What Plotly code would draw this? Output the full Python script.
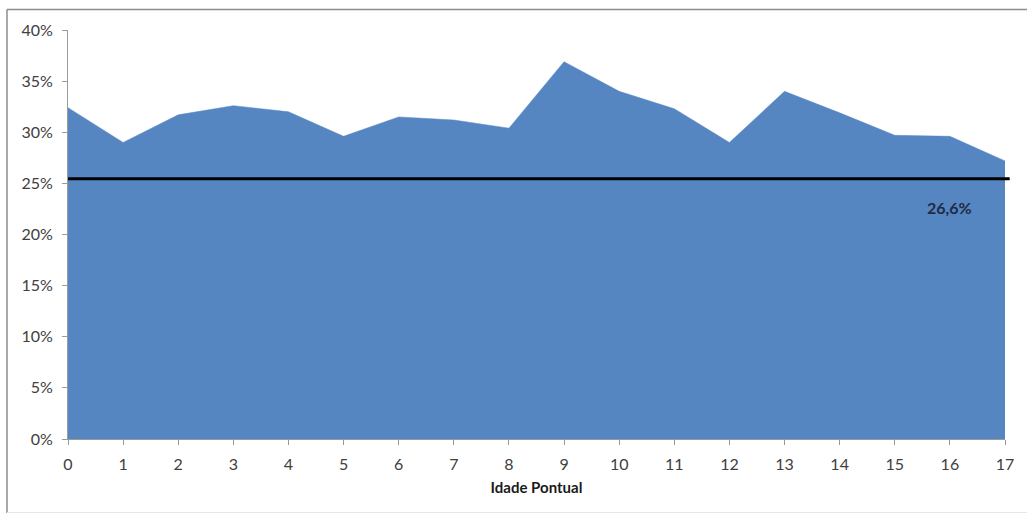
import plotly.graph_objects as go

ages = list(range(18))
tick_labels = [str(a) for a in ages]
rates = [32.4, 29.0, 31.7, 32.6, 32.0, 29.6, 31.5, 31.2, 30.4, 36.9,
         34.0, 32.3, 29.0, 34.0, 31.9, 29.7, 29.6, 27.2]
avg_line = 25.45
avg_label = "26,6%"

y_vals = [r / 100 for r in rates]

fig = go.Figure()
fig.add_trace(go.Scatter(
    x=ages, y=y_vals, mode="lines", fill="tozeroy",
    fillcolor="#5586C2", line=dict(color="#5586C2", width=0.5),
    hoverinfo="skip", showlegend=False,
))

fig.add_shape(type="line", xref="paper", yref="y", x0=0, x1=1.005,
              y0=avg_line / 100, y1=avg_line / 100,
              line=dict(color="black", width=3))

fig.add_annotation(x=16.0, y=0.226, xref="x", yref="y", text=avg_label,
                   showarrow=False,
                   font=dict(family="Lato", size=16, color="#1F2A44", weight="bold"))

# outer chart border (left, top, faint bottom)
px = lambda v: (v - 68) / 937
py = lambda v: (439 - v) / 409
fig.add_shape(type="line", xref="paper", yref="paper",
              x0=px(7), x1=px(7), y0=py(513), y1=py(9.5),
              line=dict(color="#8C8C8C", width=1.5))
fig.add_shape(type="line", xref="paper", yref="paper",
              x0=px(7), x1=px(1040), y0=py(9.5), y1=py(9.5),
              line=dict(color="#8C8C8C", width=1.5))
fig.add_shape(type="line", xref="paper", yref="paper",
              x0=px(7), x1=px(1040), y0=py(512.5), y1=py(512.5),
              line=dict(color="#E6E6E6", width=1))

axis_font = dict(family="Lato", size=16, color="#404040")
fig.update_xaxes(
    range=[0, 17], tickmode="array", tickvals=ages, ticktext=tick_labels,
    showline=True, linecolor="#9A9A9A", linewidth=1, ticks="outside",
    ticklen=5, tickcolor="#9A9A9A", showgrid=False, zeroline=False,
    tickfont=axis_font, ticklabelstandoff=6,
    title=dict(text="Idade Pontual",
               font=dict(family="Lato", size=15, color="#1A1A1A", weight="bold"),
               standoff=10),
)
fig.update_yaxes(
    range=[0, 0.4], tickmode="array",
    tickvals=[0, 0.05, 0.10, 0.15, 0.20, 0.25, 0.30, 0.35, 0.40],
    ticktext=["0%", "5%", "10%", "15%", "20%", "25%", "30%", "35%", "40%"],
    showline=True, linecolor="#9A9A9A", linewidth=1, ticks="outside",
    ticklen=5, tickcolor="#9A9A9A", showgrid=False, zeroline=False,
    tickfont=axis_font, ticklabelstandoff=6,
)

fig.update_layout(
    width=1027, height=515,
    margin=dict(l=68, r=22, t=30, b=76),
    paper_bgcolor="white", plot_bgcolor="white",
)

fig.write_html("out.html")
